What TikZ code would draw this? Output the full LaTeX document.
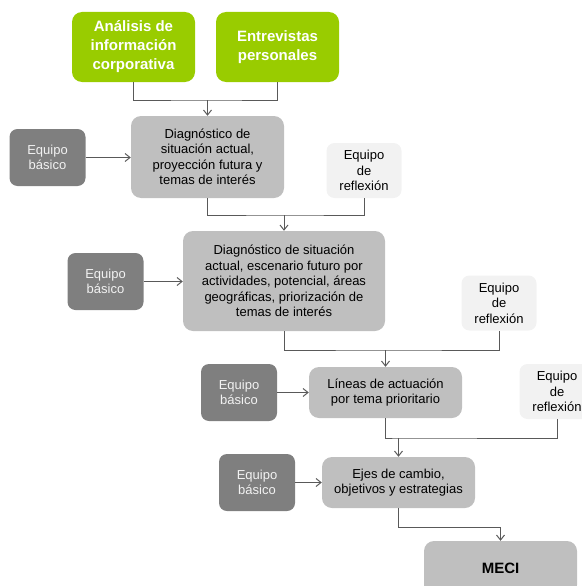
\documentclass[tikz,border=0pt]{standalone}
\usepackage{fontspec}
\setmainfont{Liberation Sans}
\usetikzlibrary{arrows.meta}
\definecolor{vgreen}{HTML}{99CC00}
\definecolor{dgray}{HTML}{7F7F7F}
\definecolor{mgray}{HTML}{BFBFBF}
\definecolor{lgray}{HTML}{F2F2F2}
\definecolor{lcol}{HTML}{595959}
\begin{document}
\begin{tikzpicture}[x=1pt,y=-1pt,
  greenbox/.style={fill=vgreen,rounded corners=10pt,text=white,align=center,
    font=\fontsize{15}{19}\selectfont\bfseries,minimum width=123pt,minimum height=70pt,inner sep=0pt},
  mainbox/.style={fill=mgray,rounded corners=10pt,text=black,align=center,
    font=\fontsize{13}{15.5}\selectfont,inner sep=0pt},
  basebox/.style={fill=dgray,rounded corners=8pt,text=lgray,align=center,
    font=\fontsize{13}{15.5}\selectfont,minimum width=76pt,minimum height=57pt,inner sep=0pt},
  reflbox/.style={fill=lgray,rounded corners=8pt,text=black,align=center,
    font=\fontsize{13}{15.5}\selectfont,minimum width=75pt,minimum height=55pt,inner sep=0pt},
  conn/.style={draw=lcol,line width=1pt},
  arr/.style={conn,-{Straight Barb[length=5pt,width=8pt]}}
]
\useasboundingbox (0,0) rectangle (581,586);
\node[greenbox] (g1) at (133.5,47) {Análisis de\\información\\corporativa};
\node[greenbox] (g2) at (277.5,47) {Entrevistas\\personales};
\node[mainbox,minimum width=153pt,minimum height=82pt] (d1) at (207.5,157) {Diagnóstico de\\situación actual,\\proyección futura y\\temas de interés};
\node[basebox] (b1) at (47.5,157.5) {Equipo\\básico};
\node[reflbox] (r1) at (364,170.5) {Equipo\\de\\reflexión};
\node[mainbox,minimum width=202pt,minimum height=100pt] (d2) at (284,281) {Diagnóstico de situación\\actual, escenario futuro por\\actividades, potencial, áreas\\geográficas, priorización de\\temas de interés};
\node[basebox] (b2) at (105.5,281.5) {Equipo\\básico};
\node[reflbox] (r2) at (499,303) {Equipo\\de\\reflexión};
\node[mainbox,minimum width=153pt,minimum height=51pt] (d3) at (385.5,392.5) {Líneas de actuación\\por tema prioritario};
\node[basebox] (b3) at (239,392.5) {Equipo\\básico};
\node[reflbox] (r3) at (557,391.5) {Equipo\\de\\reflexión};
\node[mainbox,minimum width=153pt,minimum height=51pt] (d4) at (398.5,482.5) {Ejes de cambio,\\objetivos y estrategias};
\node[basebox] (b4) at (257,482.5) {Equipo\\básico};
\node[mainbox,minimum width=153pt,minimum height=54pt,font=\fontsize{15}{19}\selectfont\bfseries] (meci) at (500.5,568) {MECI};
\coordinate (j1) at (207.5,100);
\coordinate (j2) at (284,215);
\coordinate (j3) at (385.5,350);
\coordinate (j4) at (398.5,438);
\coordinate (j5) at (500.5,527);
\draw[conn] (g1.south) |- (j1) -| (g2.south);
\draw[arr] (j1) -- (d1.north);
\draw[conn] (d1.south) |- (j2) -| (r1.south);
\draw[arr] (j2) -- (d2.north);
\draw[conn] (d2.south) |- (j3) -| (r2.south);
\draw[arr] (j3) -- (d3.north);
\draw[conn] (d3.south) |- (j4) -| (r3.south);
\draw[arr] (j4) -- (d4.north);
\draw[conn] (d4.south) |- (j5);
\draw[arr] (j5) -- (meci.north);
\draw[arr] (b1.east) -- (d1.west |- b1.east);
\draw[arr] (b2.east) -- (d2.west |- b2.east);
\draw[arr] (b3.east) -- (d3.west |- b3.east);
\draw[arr] (b4.east) -- (d4.west |- b4.east);
\end{tikzpicture}
\end{document}
